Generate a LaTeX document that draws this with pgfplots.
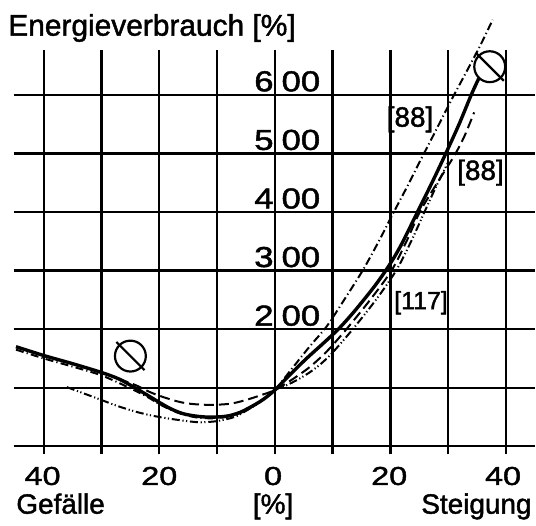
\documentclass[border=0pt]{standalone}
\usepackage{graphicx}
\usepackage{pgfplots}
\pgfplotsset{compat=1.18}
\usepackage{fontspec}
\setmainfont{Liberation Sans}[FakeBold=1.5]
\newcommand{\ylf}{\fontsize{14.5}{16}\selectfont}
\newcommand{\xlf}{\fontsize{13}{15}\selectfont}
\newcommand{\lbf}{\fontsize{14}{16}\selectfont}
\newcommand{\yd}[1]{\scalebox{1.2}[1]{\ylf #1}}
\newcommand{\xd}[1]{\scalebox{1.25}[1]{\xlf #1}}
\begin{document}
\begin{tikzpicture}
\begin{axis}[
  scale only axis, width=261.5pt, height=203pt,
  xmin=-45.2, xmax=45, ymin=-13.6, ymax=677,
  axis line style={draw=none},
  xtick={-40,-30,...,40}, ytick={0,100,...,600},
  xticklabels={}, yticklabels={},
  major tick length=0pt,
  grid=major, grid style={black, line width=1.2pt, solid},
  clip=false,
]
% invisible frame: full picture extent
\path (axis cs:-47.41,-136.05) rectangle (axis cs:45.0,761.9);

% [117] dash-dot-dot
\addplot[black, line width=1pt, smooth, tension=0.5,
  dash pattern=on 4pt off 1.4pt on 0.6pt off 1.2pt on 0.6pt off 1.4pt] coordinates {
(-36,101) (-33,90) (-30,79) (-27,68) (-23.3,57) (-20,50) (-16,44) (-13,41) (-10,43)
(-7,50) (-4.9,61) (-2.5,76) (0,96) (2,104) (4,114) (6,126) (8,141) (10,160)
(13.5,200) (17.5,250) (21,300) (23.6,350) (25.9,400) (28,445) (30,485)};

% [88] dashed
\addplot[black, line width=1pt, smooth, tension=0.5,
  dash pattern=on 5pt off 2.5pt] coordinates {
(-27,115) (-24,104) (-21.5,92) (-19.3,84) (-17,77) (-15,73) (-12.5,71) (-10,71)
(-7.5,73) (-5,79) (-2.5,87) (0,96) (3,114) (6,135) (9,162) (12.4,200) (16.5,250)
(20.2,300) (22.8,350) (25.1,400) (28,448) (31,495) (32.8,529) (34.5,570)};

% [88] dash-dot
\addplot[black, line width=1pt, smooth, tension=0.5,
  dash pattern=on 4pt off 1.6pt on 0.6pt off 1.6pt] coordinates {
(-44.8,165) (-40,150) (-35,136) (-30,121) (-25,99) (-22,84) (-20,72) (-17,58) (-14,50)
(-12,48) (-10,48) (-8,51) (-6,57) (-4,67) (-2,80) (0,96) (3,133) (6,170) (9,205)
(12,250) (15.2,300) (18,350) (20.6,400) (23,445) (25.3,490) (27.5,532) (30.5,590)
(33.2,640) (35.6,685) (37.7,728)};

% average (solid)
\addplot[black, line width=1.7pt, smooth, tension=0.5] coordinates {
(-44.8,170) (-40,155) (-35,141) (-30,126) (-27,115) (-24.4,101) (-22,87) (-20,75)
(-18,64) (-16,56) (-14,52) (-12,50) (-10,50) (-8,52) (-6,58) (-4,68) (-2,80) (0,96)
(2.5,121) (5.5,150) (8.3,175) (11,200) (13.3,225) (15.4,250) (17.4,275) (19.2,300)
(20.8,325) (22.2,350) (24.7,400) (27.2,450) (29.6,500) (31.9,550) (34,600) (35.3,628)};

% title
\node[anchor=base west, inner sep=0] at (axis cs:-46.2,701) {\fontsize{15}{17}\selectfont Energieverbrauch [\%]};

% y labels
\node[anchor=base east, inner sep=0] at (axis cs:-0.15,206) {\yd{2}};
\node[anchor=base west, inner sep=0] at (axis cs:1.1,206) {\yd{00}};
\node[anchor=base east, inner sep=0] at (axis cs:-0.15,306) {\yd{3}};
\node[anchor=base west, inner sep=0] at (axis cs:1.1,306) {\yd{00}};
\node[anchor=base east, inner sep=0] at (axis cs:-0.15,406) {\yd{4}};
\node[anchor=base west, inner sep=0] at (axis cs:1.1,406) {\yd{00}};
\node[anchor=base east, inner sep=0] at (axis cs:-0.15,506) {\yd{5}};
\node[anchor=base west, inner sep=0] at (axis cs:1.1,506) {\yd{00}};
\node[anchor=base east, inner sep=0] at (axis cs:-0.15,606) {\yd{6}};
\node[anchor=base west, inner sep=0] at (axis cs:1.1,606) {\yd{00}};

% x labels
\node[anchor=base, inner sep=0] at (axis cs:-40.2,-66) {\xd{40}};
\node[anchor=base, inner sep=0] at (axis cs:-20,-66) {\xd{20}};
\node[anchor=base, inner sep=0] at (axis cs:-0.3,-66) {\xd{0}};
\node[anchor=base, inner sep=0] at (axis cs:19.8,-66) {\xd{20}};
\node[anchor=base, inner sep=0] at (axis cs:39.5,-66) {\xd{40}};
\node[anchor=base west, inner sep=0] at (axis cs:-44.8,-115) {\lbf Gefälle};
\node[anchor=base, inner sep=0] at (axis cs:-0.3,-115) {\lbf [\%]};
\node[anchor=base east, inner sep=0] at (axis cs:44.5,-115) {\lbf Steigung};

% series labels
\node[inner sep=0] at (axis cs:23.4,558) {\lbf [88]};
\node[inner sep=0] at (axis cs:35.6,467) {\lbf [88]};
\node[inner sep=0] at (axis cs:25.3,245) {\fontsize{12.5}{14}\selectfont [117]};

% average symbols
\node[circle, draw, line width=1.1pt, minimum size=15.5pt, inner sep=0] (o1) at (axis cs:-25,154) {};
\draw[line width=1.1pt] ([shift={(-1.2pt,1.2pt)}]o1.north west) -- ([shift={(1.2pt,-1.2pt)}]o1.south east);
\node[circle, draw, line width=1.1pt, minimum size=15.5pt, inner sep=0] (o2) at (axis cs:37.2,648) {};
\draw[line width=1.1pt] ([shift={(-1.2pt,1.2pt)}]o2.north west) -- ([shift={(1.2pt,-1.2pt)}]o2.south east);
\end{axis}
\end{tikzpicture}
\end{document}
